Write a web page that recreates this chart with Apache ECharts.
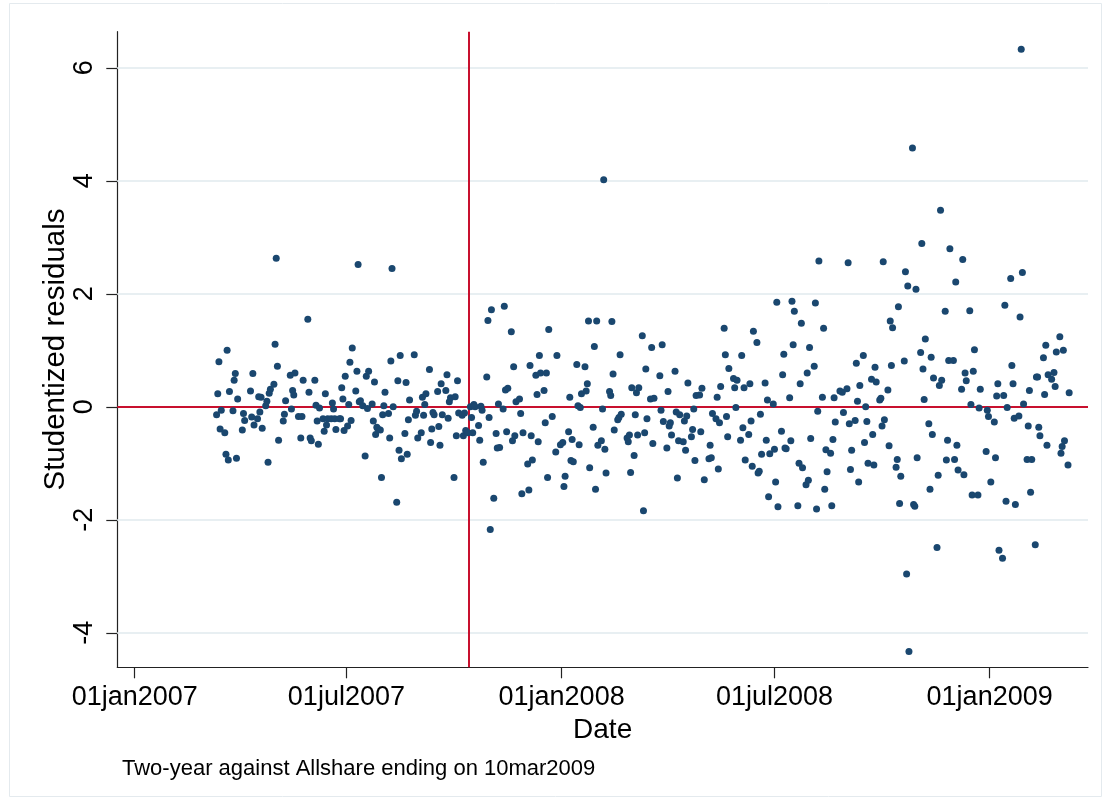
<!DOCTYPE html>
<html>
<head>
<meta charset="utf-8">
<script src="https://cdn.jsdelivr.net/npm/echarts@6/dist/echarts.min.js"></script>
<style>
html,body{margin:0;padding:0;background:#fff;}
#chart{width:1107px;height:805px;}
</style>
</head>
<body>
<div id="chart"></div>
<script>
// Studentized residuals by trading date: [day of month, residual]
const m2007_03 = [[12,-0.14],[13,0.23],[14,0.80],[15,-0.39],[16,-0.06],[19,-0.46],[20,-0.84],[21,1.00],[22,-0.94],[23,0.27],[26,-0.07],[27,0.47],[28,0.59],[29,-0.91],[30,0.14]];
const m2007_04 = [[3,-0.41],[4,-0.12],[5,-0.24],[10,0.28],[11,-0.18],[12,0.59],[13,-0.32],[16,-0.21],[17,0.18],[18,-0.09],[19,0.17],[20,-0.38],[23,0.02],[24,0.10],[25,-0.98],[26,0.24],[27,0.31],[30,0.40]];
const m2007_05 = [[1,1.11],[2,2.63],[3,0.72],[4,-0.59],[8,-0.25],[9,-0.13],[10,0.11],[14,0.56],[15,-0.04],[16,0.29],[17,0.21],[18,0.60],[21,-0.17],[23,-0.55],[24,-0.17],[25,0.47],[29,1.55],[30,0.26],[31,-0.55]];
const m2007_06 = [[1,-0.60],[4,0.47],[5,0.03],[6,-0.25],[7,-0.66],[8,-0.02],[11,-0.21],[12,-0.43],[13,0.23],[14,-0.32],[15,-0.21],[18,-0.21],[19,0.07],[20,-0.04],[21,-0.21],[22,-0.40],[25,-0.21],[26,-0.21],[27,0.34],[28,0.14],[29,-0.42],[30,0.54]];
const m2007_07 = [[2,-0.34],[3,0.04],[4,0.79],[5,-0.24],[6,1.04],[9,0.28],[10,0.63],[11,2.52],[12,0.09],[13,0.11],[15,0.02],[17,-0.87],[18,0.54],[19,-0.03],[20,0.63],[23,0.05],[24,-0.25],[25,0.44],[26,-0.49],[27,-0.36],[28,-0.39],[30,-0.41],[31,-1.25]];
const m2007_08 = [[1,-0.14],[2,0.02],[3,0.26],[6,-0.12],[7,-0.55],[8,0.81],[9,2.45],[10,0.00],[13,-1.69],[14,0.46],[15,-0.77],[16,0.91],[17,-0.92],[20,-0.47],[21,0.43],[22,-0.84],[23,-0.23],[24,0.12],[28,0.92],[29,-0.15],[30,-0.08],[31,-0.55]];
const m2007_09 = [[3,-0.46],[4,0.17],[5,-0.15],[6,0.04],[7,0.23],[10,0.66],[11,-0.63],[12,-0.39],[13,-0.10],[14,-0.14],[17,0.27],[18,-0.35],[19,-0.68],[20,0.41],[21,-0.14],[24,0.29],[25,0.57],[26,-0.20],[27,0.09],[28,0.16]];
const m2007_10 = [[1,-1.25],[2,0.18],[3,-0.51],[4,0.46],[5,-0.11],[8,-0.15],[9,-0.51],[10,-0.11],[11,-0.42],[13,-0.46],[15,0.00],[16,-0.19],[17,-0.46],[18,0.04],[19,0.00],[22,-0.33],[23,-0.59],[24,0.01],[25,-0.06],[26,-0.98],[29,0.53],[30,1.53],[31,-0.19]];
const m2007_11 = [[1,-2.17],[2,1.72],[4,-1.62],[6,-0.47],[7,-0.73],[8,0.05],[9,-0.72],[12,-0.04],[13,1.78],[14,0.30],[15,-0.44],[16,0.33],[19,1.33],[20,-0.60],[21,0.71],[22,-0.51],[23,0.09],[26,0.14],[27,-0.12],[28,-1.54],[29,-0.46]];
const m2007_12 = [[3,-1.01],[4,-1.47],[5,0.73],[6,-0.51],[7,-0.94],[10,0.56],[11,0.22],[12,-0.62],[13,0.91],[14,0.60],[17,0.29],[18,-0.28],[19,0.60],[20,-1.25],[21,1.37],[24,-0.17],[27,-0.80],[28,0.91],[31,-0.67]];
const m2008_01 = [[2,-0.63],[3,-1.41],[4,-1.23],[7,-0.44],[8,0.17],[9,-0.95],[10,-0.58],[11,-0.97],[14,0.75],[15,0.02],[16,-0.67],[17,-0.01],[18,0.23],[21,0.71],[22,0.28],[23,0.41],[24,1.52],[25,-1.08],[28,-0.36],[29,1.07],[30,-1.46],[31,1.52]];
const m2008_02 = [[1,-0.68],[4,-0.60],[5,-0.04],[6,4.02],[7,-0.75],[8,-1.17],[11,0.27],[12,0.20],[13,1.51],[14,0.58],[15,-0.41],[18,-0.23],[19,-0.19],[20,0.92],[21,-0.13],[26,-0.55],[27,-0.62],[28,-0.50],[29,-1.16]];
const m2008_03 = [[1,0.34],[3,-0.86],[4,-0.14],[5,0.25],[6,-0.50],[7,0.34],[10,1.26],[11,-1.84],[12,-0.46],[13,0.67],[14,-0.21],[17,0.14],[18,1.05],[19,-0.65],[20,0.15],[25,0.55],[26,-0.06],[27,1.10],[28,-0.26],[31,-0.73]];
const m2008_04 = [[1,0.27],[2,-0.34],[3,-0.28],[4,-0.50],[7,0.63],[8,-0.09],[9,-1.26],[10,-0.60],[11,-0.14],[14,-0.62],[15,-0.25],[16,-0.77],[17,-0.16],[18,0.42],[21,-0.53],[22,-0.40],[23,-0.04],[24,-0.95],[25,0.20],[28,0.21],[29,-0.44],[30,0.33]];
const m2008_05 = [[2,-1.29],[6,-0.92],[7,-0.68],[8,-0.90],[9,-0.12],[12,-0.21],[13,0.17],[14,-1.10],[15,-0.28],[16,0.36],[19,1.39],[20,0.92],[21,-0.17],[22,-0.53],[23,0.68],[27,0.50],[28,0.34],[29,-0.01],[30,0.47]];
const m2008_06 = [[2,-0.59],[3,0.91],[4,-0.37],[5,0.34],[6,-0.94],[9,-0.49],[10,0.41],[11,-0.25],[12,-1.05],[13,1.34],[16,1.14],[17,-1.17],[18,-1.14],[19,-0.13],[20,-0.84],[23,0.42],[24,-0.59],[25,0.12],[26,-1.59],[27,-0.83],[30,0.05]];
const m2008_07 = [[1,-0.75],[2,-1.33],[3,1.85],[4,-1.77],[7,-0.43],[8,0.57],[9,0.93],[10,-0.73],[11,-0.74],[14,0.16],[15,-0.60],[16,1.87],[17,1.10],[18,1.69],[21,-1.75],[22,-1.00],[23,0.41],[24,1.48],[25,-1.08],[28,-1.38],[29,0.60],[30,-1.30],[31,1.05]];
const m2008_08 = [[1,-0.56],[4,0.72],[5,1.84],[6,-1.81],[7,-0.08],[8,2.58],[11,0.17],[12,1.39],[13,-1.46],[14,-0.76],[15,-1.15],[18,-0.82],[19,-1.75],[20,-0.58],[21,0.16],[22,-0.27],[26,0.28],[28,0.26],[29,-0.10]];
const m2008_09 = [[1,0.32],[2,2.55],[3,-0.30],[4,-1.11],[5,-0.77],[8,-0.24],[9,0.77],[10,0.10],[11,-1.33],[12,0.38],[15,0.91],[16,-0.63],[17,0.00],[18,-0.26],[19,-1.00],[22,0.49],[23,-0.49],[24,-1.03],[25,0.70],[26,0.44],[29,0.12],[30,0.15]];
const m2008_10 = [[1,-0.34],[2,2.57],[3,-0.23],[6,0.30],[7,-0.69],[8,1.52],[9,0.73],[10,1.40],[13,-1.07],[14,-0.93],[15,1.77],[16,-1.71],[17,-1.23],[20,0.81],[21,2.39],[22,-2.96],[23,2.14],[24,-4.33],[27,4.58],[28,-1.73],[29,-1.76],[30,2.08],[31,-0.90]];
const m2008_11 = [[3,0.96],[4,2.89],[5,0.67],[6,0.13],[7,1.20],[10,-0.30],[11,-1.46],[12,0.88],[13,-0.49],[14,0.51],[17,-2.49],[18,-1.21],[19,0.38],[20,3.48],[21,0.47],[24,1.69],[25,-0.94],[26,-0.59],[27,0.82],[28,2.80]];
const m2008_12 = [[1,0.82],[2,-0.93],[3,2.21],[4,-0.68],[5,-1.12],[8,0.31],[9,2.61],[10,-1.20],[11,0.60],[12,0.46],[15,1.70],[16,0.04],[17,-1.56],[18,0.63],[19,1.01],[22,-1.56],[23,-0.02],[24,0.31],[29,-0.79],[30,-0.06],[31,-0.17]];
const m2009_01 = [[2,-1.33],[5,-0.27],[6,-0.90],[7,0.19],[8,0.41],[9,-2.54],[12,-2.68],[13,0.20],[14,1.80],[15,-1.67],[16,-0.01],[19,2.27],[20,0.73],[21,0.41],[22,-0.20],[23,-1.73],[26,-0.16],[27,1.59],[28,6.33],[29,2.38],[30,0.05]];
const m2009_02 = [[2,-0.93],[3,-0.34],[4,0.29],[5,-1.51],[6,-0.93],[9,-2.44],[10,0.53],[11,0.53],[12,-0.36],[13,-0.51],[16,0.87],[17,0.22],[18,1.09],[19,-0.68],[20,0.57],[23,0.49],[25,0.61],[26,0.36],[27,0.97]];
const m2009_03 = [[2,1.24],[3,-0.82],[4,-0.70],[5,1.00],[6,-0.60],[9,-1.03],[10,0.25]];

const months = [
  [2007,3,m2007_03],[2007,4,m2007_04],[2007,5,m2007_05],[2007,6,m2007_06],
  [2007,7,m2007_07],[2007,8,m2007_08],[2007,9,m2007_09],[2007,10,m2007_10],
  [2007,11,m2007_11],[2007,12,m2007_12],[2008,1,m2008_01],[2008,2,m2008_02],
  [2008,3,m2008_03],[2008,4,m2008_04],[2008,5,m2008_05],[2008,6,m2008_06],
  [2008,7,m2008_07],[2008,8,m2008_08],[2008,9,m2008_09],[2008,10,m2008_10],
  [2008,11,m2008_11],[2008,12,m2008_12],[2009,1,m2009_01],[2009,2,m2009_02],
  [2009,3,m2009_03]
];

// Axis ticks
const xTickDates = [[2007,1,1],[2007,7,1],[2008,1,1],[2008,7,1],[2009,1,1]];
const xTickLabels = ['01jan2007','01jul2007','01jan2008','01jul2008','01jan2009'];
const yTicks = [-4,-2,0,2,4,6];
const yGrid = [-4,-2,2,4,6];
const eventDate = [2007,10,14];
const xRange = [[2006,12,17.1],[2009,3,26.1]];
const yRange = [-4.61, 6.64];

const ORIGIN = Date.UTC(2007,0,1);
function dayNum(y,m,d){ return (Date.UTC(y,m-1,1) - ORIGIN)/86400000 + (d-1); }

const points = [];
months.forEach(([y,m,arr]) => arr.forEach(([d,v]) => points.push([dayNum(y,m,d), v])));
const xTickVals = xTickDates.map(a => dayNum(a[0],a[1],a[2]));
const labelMap = {};
xTickVals.forEach((v,i) => labelMap[v] = xTickLabels[i]);

const FONT = '"Liberation Sans", Arial, Helvetica, sans-serif';
const chart = echarts.init(document.getElementById('chart'), null, {renderer:'canvas'});
chart.setOption({
  backgroundColor: '#ffffff',
  animation: false,
  textStyle: {fontFamily: FONT},
  title: {
    text: 'Two-year against Allshare ending on 10mar2009',
    left: 117, top: 753,
    textStyle: {fontFamily: FONT, fontSize: 22, fontWeight: 'normal', color: '#000'}
  },
  graphic: [{
    type: 'rect', shape: {x: 9.5, y: 3.5, width: 1092, height: 793},
    style: {fill: 'none', stroke: '#e4eaee', lineWidth: 1}, silent: true
  }],
  grid: {left: 117.3, right: 19, top: 31.7, bottom: 137.7, containLabel: false},
  xAxis: {
    type: 'value',
    min: dayNum(xRange[0][0], xRange[0][1], xRange[0][2]),
    max: dayNum(xRange[1][0], xRange[1][1], xRange[1][2]),
    name: 'Date', nameLocation: 'middle', nameGap: 49, nameMoveOverlap: false,
    nameTextStyle: {fontFamily: FONT, fontSize: 28, color: '#000'},
    axisLine: {show: true, onZero: false, lineStyle: {color: '#222', width: 1.2}},
    axisTick: {show: true, length: 11, customValues: xTickVals, lineStyle: {color: '#222', width: 1.2}},
    axisLabel: {
      customValues: xTickVals, margin: 17, fontSize: 27, color: '#000', fontFamily: FONT,
      formatter: v => labelMap[v] || ''
    },
    splitLine: {show: false}
  },
  yAxis: {
    type: 'value', min: yRange[0], max: yRange[1],
    name: 'Studentized residuals', nameLocation: 'middle', nameRotate: 90, nameGap: 46, nameMoveOverlap: false,
    nameTextStyle: {fontFamily: FONT, fontSize: 29.5, color: '#000'},
    axisLine: {show: true, onZero: false, lineStyle: {color: '#222', width: 1.2}},
    axisTick: {show: true, length: 11, customValues: yTicks, lineStyle: {color: '#222', width: 1.2}},
    axisLabel: {customValues: yTicks, rotate: 90, margin: 19, fontSize: 27, color: '#000', fontFamily: FONT},
    splitLine: {show: false}
  },
  series: [
    {
      type: 'scatter', data: [], z: 1, silent: true,
      markLine: {
        silent: true, symbol: 'none', animation: false,
        label: {show: false},
        lineStyle: {color: '#e8eff2', width: 2, type: 'solid'},
        data: yGrid.map(v => ({yAxis: v}))
      }
    },
    {
      type: 'scatter', data: [], z: 2, silent: true,
      markLine: {
        silent: true, symbol: 'none', animation: false,
        label: {show: false},
        lineStyle: {color: '#c8102e', width: 2, type: 'solid'},
        data: [{yAxis: 0}, {xAxis: dayNum(eventDate[0], eventDate[1], eventDate[2])}]
      }
    },
    {
      type: 'scatter', z: 5, data: points, symbol: 'circle', symbolSize: 7,
      itemStyle: {color: '#1a476f', opacity: 1}
    }
  ]
});
</script>
</body>
</html>
